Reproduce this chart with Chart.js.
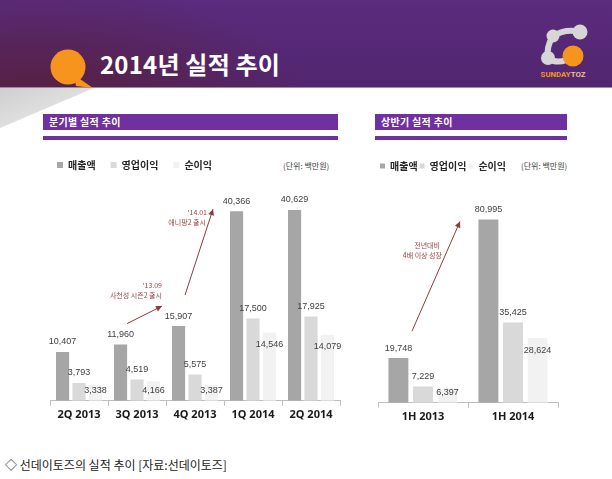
<!DOCTYPE html>
<html><head><meta charset="utf-8">
<script src="https://cdn.jsdelivr.net/npm/chart.js@4.4.1/dist/chart.umd.min.js"></script>
<style>
html,body{margin:0;padding:0;background:#fff;}
body{width:612px;height:479px;position:relative;overflow:hidden;font-family:'Noto Sans CJK KR','Noto Sans',sans-serif;}
#hdr{position:absolute;left:0;top:0;width:612px;height:87px;
 background:radial-gradient(ellipse 270px 120px at 40px 105px, rgba(88,32,58,0.95), rgba(88,32,58,0) 100%), linear-gradient(#5a2b7e,#52266f);
 border-bottom:1px solid #9a8aa6;}
#title{position:absolute;left:100px;top:49px;color:#fff;font-size:24px;font-weight:bold;line-height:30px;letter-spacing:0.2px;}
.bar{position:absolute;height:16px;background:#7030a0;color:#fff;font-size:10px;font-weight:bold;line-height:16px;padding-left:6px;box-sizing:border-box;letter-spacing:0.3px;}
.thin{position:absolute;height:4px;background:#7030a0;}
.unit{position:absolute;font-size:8px;color:#404040;line-height:10px;}
#cap{position:absolute;left:5px;top:457px;font-size:12px;color:#222;line-height:16px;}
canvas{position:absolute;}
</style></head><body>
<div id="hdr"></div>
<svg style="position:absolute;left:0;top:0" width="612" height="140">
 <defs><linearGradient id="sh" x1="0" y1="0" x2="1" y2="1"><stop offset="0" stop-color="#cfcfcf"/><stop offset="1" stop-color="#eeeeee"/></linearGradient></defs>
 <polygon points="0,88 94,88 0,128" fill="url(#sh)"/>
 <path d="M68,50 a17,17 0 1,0 12,29 L93,88 L76,86 Z" fill="#f7941d"/>
 <circle cx="68" cy="67" r="17.5" fill="#f7941d"/>
 <path d="M553,36 Q566,28 580,32 M553,36 Q546,47 548,58 Q556,64 566,60" stroke="#d6d6d6" stroke-width="6" fill="none" stroke-linecap="round"/>
 <circle cx="553" cy="36" r="6.5" fill="#d6d6d6"/>
 <circle cx="580" cy="32" r="7.5" fill="#d6d6d6"/>
 <circle cx="548" cy="58" r="7" fill="#d6d6d6"/>
 <circle cx="573" cy="56" r="10.5" fill="#f7941d"/>
 <text x="563" y="77" text-anchor="middle" font-family="Roboto, sans-serif" font-weight="bold" font-size="7.8" fill="#f7941d">SUNDAY<tspan fill="#f4c08a">TOZ</tspan></text>
</svg>
<div id="title">2014년 실적 추이</div>
<div class="bar" style="left:43px;top:114px;width:295px;">분기별 실적 추이</div>
<div class="thin" style="left:43px;top:136px;width:295px;"></div>
<div class="bar" style="left:375px;top:114px;width:192px;">상반기 실적 추이</div>
<div class="thin" style="left:375px;top:136px;width:192px;"></div>
<div class="unit" style="left:283px;top:161px;">(단위: 백만원)</div>
<div class="unit" style="left:521px;top:161px;">(단위: 백만원)</div>
<canvas id="c1" width="306" height="278" style="left:42px;top:145px;"></canvas>
<canvas id="c2" width="190" height="266" style="left:378px;top:159px;"></canvas>
<div id="cap">◇ 선데이토즈의 실적 추이 [자료:선데이토즈]</div>
<script>
const seriesNames = ['매출액','영업이익','순이익'];
const seriesColors = ['#a6a6a6','#d9d9d9','#f2f2f2'];
const qCategories = ['2Q 2013','3Q 2013','4Q 2013','1Q 2014','2Q 2014'];
const qRevenue = [10407,11960,15907,40366,40629];
const qOperating = [3793,4519,5575,17500,17925];
const qNet = [3338,4166,3387,14546,14079];
const hCategories = ['1H 2013','1H 2014'];
const hRevenue = [19748,80995];
const hOperating = [7229,35425];
const hNet = [6397,28624];

const valueLabels = {
  id:'valueLabels',
  afterDatasetsDraw(chart){
    const ctx = chart.ctx;
    ctx.save();
    ctx.font = '9px "Liberation Sans", Arial, sans-serif';
    ctx.fillStyle = '#404040';
    ctx.textAlign = 'center'; ctx.textBaseline = 'middle';
    chart.data.datasets.forEach((ds,i)=>{
      chart.getDatasetMeta(i).data.forEach((el,j)=>{
        const y = i < 2 ? el.y - 10 : Math.min(el.y + 12, el.base - 10);
        ctx.fillText(ds.data[j].toLocaleString('en-US'), el.x, y);
      });
    });
    ctx.restore();
  }
};
const arrows = {
  id:'arrows',
  afterDatasetsDraw(chart, args, opts){
    const ctx = chart.ctx, xs = chart.scales.x, ys = chart.scales.y;
    const P = a => [xs.getPixelForValue(a[0]) + a[2], ys.getPixelForValue(a[1]) + a[3]];
    ctx.save();
    (opts.items||[]).forEach(it=>{
      const [x1,y1] = P(it.from), [x2,y2] = P(it.to);
      ctx.strokeStyle = '#8e3b3b'; ctx.fillStyle = '#8e3b3b'; ctx.lineWidth = 1;
      ctx.beginPath(); ctx.moveTo(x1,y1); ctx.lineTo(x2,y2); ctx.stroke();
      const ang = Math.atan2(y2-y1, x2-x1), L = 6, W = 3;
      ctx.beginPath();
      ctx.moveTo(x2,y2);
      ctx.lineTo(x2 - L*Math.cos(ang) + W*Math.sin(ang), y2 - L*Math.sin(ang) - W*Math.cos(ang));
      ctx.lineTo(x2 - L*Math.cos(ang) - W*Math.sin(ang), y2 - L*Math.sin(ang) + W*Math.cos(ang));
      ctx.closePath(); ctx.fill();
      ctx.fillStyle = '#9b4545';
      ctx.font = '7px "Noto Sans CJK KR", sans-serif';
      ctx.textAlign = 'right'; ctx.textBaseline = 'middle';
      it.texts.forEach(t=>{ const [tx,ty] = P(t.at); ctx.fillText(t.text, tx, ty); });
    });
    ctx.restore();
  }
};

function makeChart(id, cats, rev, op, net, ymax, yw, padR, legPad, boxW, catPct, barPct, items){
  return new Chart(document.getElementById(id), {
    type:'bar',
    data:{labels:cats, datasets:[
      {label:seriesNames[0], data:rev, backgroundColor:seriesColors[0]},
      {label:seriesNames[1], data:op, backgroundColor:seriesColors[1]},
      {label:seriesNames[2], data:net, backgroundColor:seriesColors[2]}
    ]},
    options:{
      responsive:false, animation:false, devicePixelRatio:1,
      layout:{padding:{left:0, right:padR, top:0, bottom:0}},
      datasets:{bar:{categoryPercentage:catPct, barPercentage:barPct}},
      plugins:{
        legend:{display:true, position:'top', align:'start',
          labels:{boxWidth:boxW, boxHeight:boxW, padding:legPad, color:'#262626',
            font:{family:'"Noto Sans CJK KR", sans-serif', size:10, weight:'bold'}}},
        tooltip:{enabled:false},
        arrows:{items:items}
      },
      scales:{
        x:{grid:{display:true, drawOnChartArea:false, drawTicks:true, tickLength:5, color:'#bfbfbf'},
           border:{display:true, color:'#bfbfbf'},
           ticks:{padding:2, color:'#1a1a1a', font:{family:'"Noto Sans", sans-serif', size:11, weight:'bold'}}},
        y:{display:true, min:0, max:ymax, grid:{display:false}, border:{display:false}, ticks:{display:false},
           afterFit:s=>{s.width = yw;}}
      }
    },
    plugins:[valueLabels, arrows]
  });
}

makeChart('c1', qCategories, qRevenue, qOperating, qNet, 47000, 8, 8, 15, 6, 0.85, 0.8, [
  {from:[1,11960,-10,-21], to:[2,15907,-33,-20],
   texts:[{text:"'13.09", at:[2,15907,-33,-41]},{text:'사천성 시즌2 출시', at:[2,15907,-33,-31]}]},
  {from:[2,15907,-10,-31], to:[3,40366,-40,-2],
   texts:[{text:"'14.01", at:[3,40366,-46,1]},{text:'애니팡2 출시', at:[3,40366,-47,11]}]}
]);
makeChart('c2', hCategories, hRevenue, hOperating, hNet, 98000, 0, 10, 2, 5, 0.82, 0.81, [
  {from:[0,19748,-11,-27], to:[1,80995,-53,2],
   texts:[{text:'전년대비', at:[0,19748,17,-113]},{text:'4배 이상 성장', at:[0,19748,19,-103]}]}
]);
</script>
</body></html>
